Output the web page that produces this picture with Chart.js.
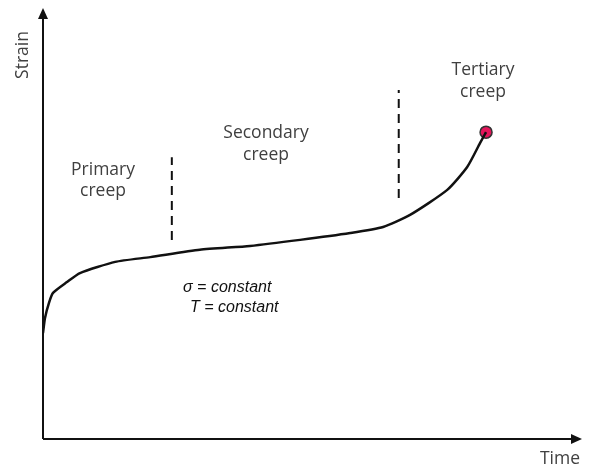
<!DOCTYPE html>
<html>
<head>
<meta charset="utf-8">
<script src="https://cdn.jsdelivr.net/npm/chart.js@4.4.1/dist/chart.umd.min.js"></script>
<style>
  html, body { margin: 0; padding: 0; background: #fff; }
  #wrap { width: 592px; height: 468px; }
</style>
</head>
<body>
<div id="wrap"><canvas id="creepChart" width="592" height="468"></canvas></div>
<script>
// creep curve, time vs strain (arbitrary units 0..100)
var time_values = [0, 0.37, 1.11, 1.86, 4.45, 6.86, 13.4, 19.9, 29.1, 38.4, 47.7, 57.0, 63.1, 68.1, 75.0, 78.7, 81.1, 82.2];
var strain_values = [24.6, 28.1, 31.6, 33.9, 36.4, 38.5, 41.1, 42.2, 43.9, 44.8, 46.2, 47.8, 49.2, 52.0, 57.8, 63.1, 68.7, 71.2];
// stage boundaries (dashed markers)
var boundary_times = [23.9, 66.0];
var boundary_low = [46.2, 55.9];
var boundary_high = [65.4, 81.0];
// rupture point
var rupture_point = [82.2, 71.2];

var stage_labels = [['Primary', 'creep'], ['Secondary', 'creep'], ['Tertiary', 'creep']];
var condition_labels = ['\u03c3 = constant', 'T = constant'];
var axis_labels = ['Time', 'Strain'];

var curve = time_values.map(function(t, i) { return { x: t, y: strain_values[i] }; });

var datasets = [{
    data: curve,
    borderColor: '#111',
    borderWidth: 2.5,
    pointRadius: 0,
    tension: 0.2,
    fill: false
}];
boundary_times.forEach(function(t, i) {
    datasets.push({
        data: [{ x: t, y: boundary_low[i] }, { x: t, y: boundary_high[i] }],
        borderColor: '#111',
        borderWidth: 2,
        borderDash: [9, 6],
        pointRadius: 0,
        fill: false
    });
});
datasets.push({
    data: [{ x: rupture_point[0], y: rupture_point[1] }],
    pointRadius: 6,
    pointBackgroundColor: '#e3165b',
    pointBorderColor: '#333',
    pointBorderWidth: 1.5,
    showLine: false
});

// axes with arrow heads and annotation text
var decorPlugin = {
    id: 'decor',
    afterDraw: function(chart) {
        var ctx = chart.ctx;
        var a = chart.chartArea;
        ctx.save();
        ctx.strokeStyle = '#111';
        ctx.fillStyle = '#111';
        ctx.lineWidth = 2;
        ctx.beginPath();
        ctx.moveTo(a.left, a.bottom);
        ctx.lineTo(a.left, a.top + 8);
        ctx.moveTo(a.left, a.bottom);
        ctx.lineTo(a.right - 8, a.bottom);
        ctx.stroke();
        // arrows
        ctx.beginPath();
        ctx.moveTo(a.left, a.top);
        ctx.lineTo(a.left - 5, a.top + 11);
        ctx.lineTo(a.left + 5, a.top + 11);
        ctx.closePath();
        ctx.fill();
        ctx.beginPath();
        ctx.moveTo(a.right, a.bottom);
        ctx.lineTo(a.right - 11, a.bottom - 5);
        ctx.lineTo(a.right - 11, a.bottom + 5);
        ctx.closePath();
        ctx.fill();

        ctx.fillStyle = '#404040';
        ctx.textAlign = 'center';
        ctx.textBaseline = 'middle';
        ctx.font = '17.5px "Open Sans"';
        var pos = [[103, 170, 191], [266, 133, 155], [483, 70, 92]];
        stage_labels.forEach(function(l, i) {
            ctx.fillText(l[0], pos[i][0], pos[i][1]);
            ctx.fillText(l[1], pos[i][0], pos[i][2]);
        });
        ctx.fillText(axis_labels[0], 560, 459);
        ctx.save();
        ctx.translate(23, 55);
        ctx.rotate(-Math.PI / 2);
        ctx.fillText(axis_labels[1], 0, 0);
        ctx.restore();

        ctx.fillStyle = '#111';
        ctx.textAlign = 'left';
        ctx.font = 'italic 16px "Liberation Sans"';
        ctx.fillText(condition_labels[0], 183, 288);
        ctx.fillText(condition_labels[1], 190, 308);
        ctx.restore();
    }
};

new Chart(document.getElementById('creepChart'), {
    type: 'line',
    data: { datasets: datasets },
    options: {
        responsive: false,
        animation: false,
        layout: { padding: { left: 43, right: 10, top: 8, bottom: 29 } },
        plugins: { legend: { display: false }, tooltip: { enabled: false } },
        scales: {
            x: { type: 'linear', min: 0, max: 100, display: false },
            y: { type: 'linear', min: 0, max: 100, display: false }
        }
    },
    plugins: [decorPlugin]
});
</script>
</body>
</html>
